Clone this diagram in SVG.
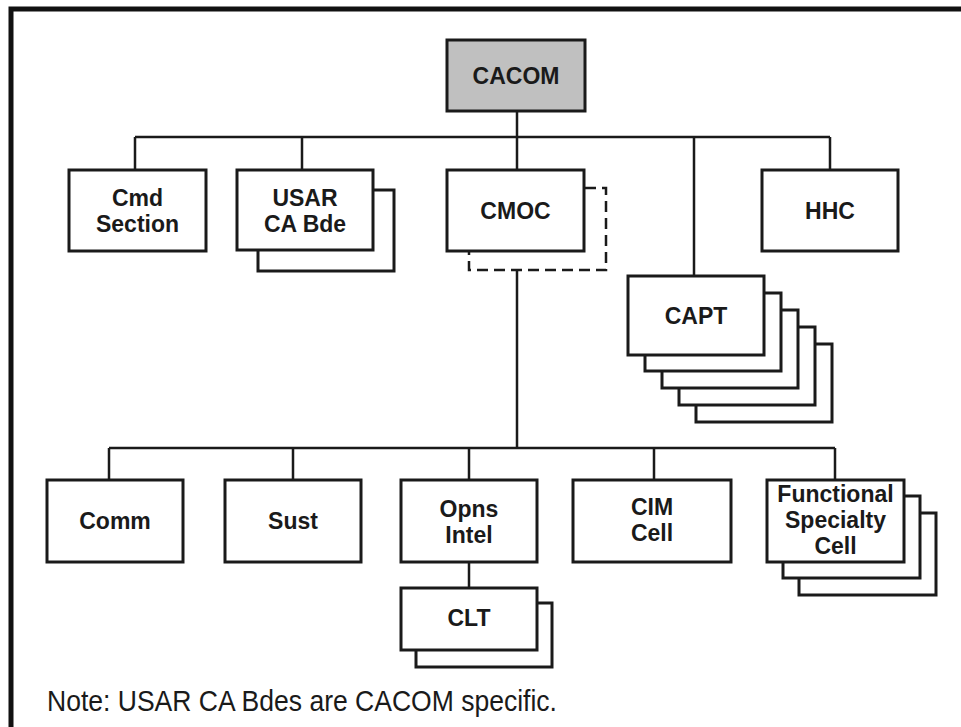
<svg xmlns="http://www.w3.org/2000/svg" width="961" height="727" viewBox="0 0 961 727">
<style>
.box{fill:#fff;stroke:#1a1a1a;stroke-width:3}
.top{fill:#c0c0c0;stroke:#1a1a1a;stroke-width:3}
.lbl{font-family:"Liberation Sans",Arial,sans-serif;font-weight:bold;font-size:23px;fill:#1a1a1a;text-anchor:middle}
.ln{fill:none;stroke:#1a1a1a;stroke-width:2.5}
.dash{fill:none;stroke:#1a1a1a;stroke-width:2.5;stroke-dasharray:11 6}
.note{font-family:"Liberation Sans",Arial,sans-serif;font-size:29px;fill:#1a1a1a}
</style>
<rect width="961" height="727" fill="#fff"/>
<path d="M11 727 V9 H961" fill="none" stroke="#111" stroke-width="5"/>

<g id="connectors">
<path class="ln" d="M517 111 V137 M135 137 H830 M135 137 V170 M302 137 V170 M517 137 V170 M694 137 V276 M830 137 V170"/>
<path class="ln" d="M517 270 V448 M109 448 H835 M109 448 V480 M293 448 V480 M469 448 V480 M654 448 V480 M835 448 V480 M469 562 V588"/>
</g>

<g id="cacom"><rect class="top" x="447" y="40" width="138" height="71"/><text class="lbl" x="516" y="84">CACOM</text></g>

<g id="cmd-section"><rect class="box" x="69" y="170" width="137" height="81"/><text class="lbl" x="137.5" y="206">Cmd</text><text class="lbl" x="137.5" y="232">Section</text></g>

<g id="usar-ca-bde"><rect class="box" x="258" y="190" width="136" height="81"/><rect class="box" x="237" y="170" width="136" height="80"/><text class="lbl" x="305" y="206">USAR</text><text class="lbl" x="305" y="232">CA Bde</text></g>

<g id="cmoc"><path class="dash" d="M585 188 H606 V270 H469 V252"/><rect class="box" x="447" y="170" width="137" height="81"/><text class="lbl" x="515.5" y="219">CMOC</text></g>

<g id="hhc"><rect class="box" x="762" y="170" width="136" height="81"/><text class="lbl" x="830" y="219">HHC</text></g>

<g id="capt">
<rect class="box" x="696" y="344" width="136" height="78"/>
<rect class="box" x="679" y="327" width="136" height="78"/>
<rect class="box" x="662" y="310" width="136" height="78"/>
<rect class="box" x="645" y="293" width="136" height="78"/>
<rect class="box" x="628" y="276" width="136" height="79"/>
<text class="lbl" x="696" y="324">CAPT</text></g>

<g id="comm"><rect class="box" x="47" y="480" width="136" height="82"/><text class="lbl" x="115" y="529">Comm</text></g>
<g id="sust"><rect class="box" x="225" y="480" width="136" height="82"/><text class="lbl" x="293" y="529">Sust</text></g>
<g id="opns-intel"><rect class="box" x="401" y="480" width="136" height="82"/><text class="lbl" x="469" y="517">Opns</text><text class="lbl" x="469" y="543">Intel</text></g>
<g id="cim-cell"><rect class="box" x="573" y="480" width="158" height="82"/><text class="lbl" x="652" y="515">CIM</text><text class="lbl" x="652" y="541">Cell</text></g>
<g id="functional-specialty-cell">
<rect class="box" x="799" y="513" width="137" height="82"/>
<rect class="box" x="783" y="496" width="137" height="82"/>
<rect class="box" x="767" y="480" width="137" height="82"/>
<text class="lbl" x="835.5" y="502">Functional</text><text class="lbl" x="835.5" y="528">Specialty</text><text class="lbl" x="835.5" y="554">Cell</text></g>
<g id="clt"><rect class="box" x="416" y="603" width="136" height="64"/><rect class="box" x="401" y="588" width="136" height="62"/><text class="lbl" x="469" y="626">CLT</text></g>

<text class="note" x="47" y="711" textLength="510" lengthAdjust="spacingAndGlyphs">Note: USAR CA Bdes are CACOM specific.</text>
</svg>
